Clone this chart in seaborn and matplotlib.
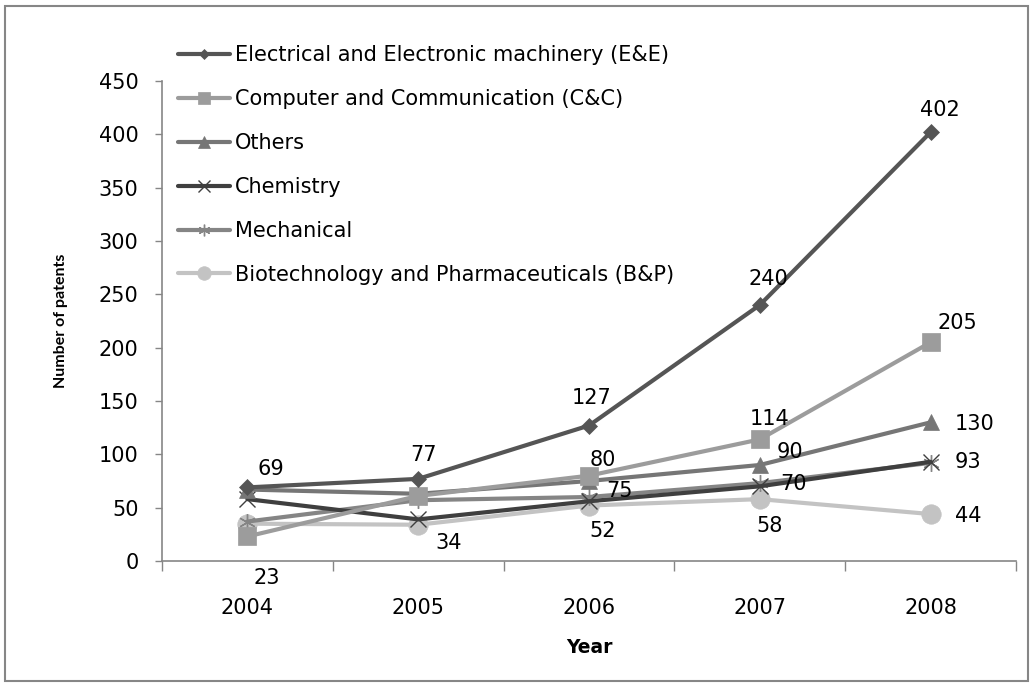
import pandas as pd
import seaborn as sns
import matplotlib.pyplot as plt
from matplotlib.patches import Rectangle
from matplotlib.ticker import FixedLocator

years = ['2004', '2005', '2006', '2007', '2008']
series_names = [
    'Electrical and Electronic machinery (E&E)',
    'Computer and Communication (C&C)',
    'Others',
    'Chemistry',
    'Mechanical',
    'Biotechnology and Pharmaceuticals (B&P)',
]
ee = [69, 77, 127, 240, 402]
cc = [23, 61, 80, 114, 205]
others = [67, 63, 75, 90, 130]
chemistry = [58, 39, 56, 70, 93]
mechanical = [37, 57, 60, 73, 92]
bp = [35, 34, 52, 58, 44]
values = [ee, cc, others, chemistry, mechanical, bp]

colors = ['#555555', '#9c9c9c', '#767676', '#3f3f3f', '#858585', '#c3c3c3']
markers = ['D', 's', '^', 'x', (6, 2, 0), 'o']
msizes = [8, 12.5, 12, 12, 12, 14]

rows = []
for name, vals in zip(series_names, values):
    for i, v in enumerate(vals):
        rows.append({'series': name, 'x': i, 'value': v})
df = pd.DataFrame(rows)

sns.set_theme(style='white')
plt.rcParams['font.family'] = ['DejaVu Sans']
plt.rcParams['text.color'] = 'black'
FS = 15

fig = plt.figure(figsize=(10.34, 6.86), dpi=100)
ax = fig.add_axes([162 / 1034, 1 - 561 / 686, (1016 - 162) / 1034, (561 - 81) / 686])

for k, name in enumerate(series_names):
    sub = df[df['series'] == name]
    m = markers[k]
    filled = m not in ('x', (6, 2, 0))
    sns.lineplot(data=sub, x='x', y='value', ax=ax, color=colors[k], lw=3,
                 marker=m, markersize=msizes[k],
                 markeredgecolor=colors[k],
                 markeredgewidth=1.0 if not filled else 0.5,
                 label=name, zorder=3 + (5 - k))

# data labels: (series index, year index) -> offset of label centre in points
label_offsets = {
    (0, 0): (17, 13), (0, 1): (3.5, 17), (0, 2): (2, 20), (0, 3): (6, 19), (0, 4): (7, 16),
    (1, 0): (14, -30), (1, 2): (10, 11), (1, 3): (7, 15), (1, 4): (19, 14),
    (2, 2): (22, -7), (2, 3): (22, 9), (2, 4): (32, -1.5),
    (3, 3): (24, 2), (3, 4): (27, 0),
    (5, 1): (22, -13), (5, 2): (10, -18), (5, 3): (7, -19), (5, 4): (27, -1.5),
}
for (s, i), (dx, dy) in label_offsets.items():
    ax.annotate(str(values[s][i]), (i, values[s][i]), xytext=(dx, dy),
                textcoords='offset points', ha='center', va='center',
                fontsize=FS, color='black', zorder=20)

ax.set_xlim(-0.5, 4.5)
ax.set_ylim(0, 450)
ax.set_yticks(range(0, 451, 50))
ax.set_xticks(range(5))
ax.set_xticklabels(years)
ax.xaxis.set_minor_locator(FixedLocator([-0.5, 0.5, 1.5, 2.5, 3.5, 4.5]))
ax.tick_params(axis='x', which='major', length=0, pad=27, labelsize=FS, colors='black')
ax.tick_params(axis='x', which='minor', length=7, width=1, color='#868686', direction='out', bottom=True)
ax.tick_params(axis='y', length=5, width=1, color='#868686', direction='out', left=True,
               labelsize=FS, pad=12, colors='black')
for sp in ['top', 'right']:
    ax.spines[sp].set_visible(False)
for sp in ['left', 'bottom']:
    ax.spines[sp].set_color('#868686')
    ax.spines[sp].set_linewidth(1.2)

ax.set_xlabel('Year', fontsize=13.5, fontweight='bold', labelpad=14, color='black')
ax.set_ylabel('Number of patents', fontsize=11.5, fontweight='bold', labelpad=22,
              family=['Lato', 'DejaVu Sans'], color='black')

leg = ax.legend(loc='upper left', bbox_to_anchor=(178 / 1034, 1 - 45 / 686),
                bbox_transform=fig.transFigure, frameon=False, fontsize=FS,
                labelspacing=1.15, handlelength=2.5, handletextpad=0.25, borderpad=0,
                borderaxespad=0, markerscale=0.7)
for t in leg.get_texts():
    t.set_color('black')

fig.patches.append(Rectangle((5 / 1034, 5 / 686), 1023 / 1034, 675 / 686,
                             transform=fig.transFigure, fill=False,
                             edgecolor='#868686', lw=1.5))

fig.savefig('out.png', dpi=100)
